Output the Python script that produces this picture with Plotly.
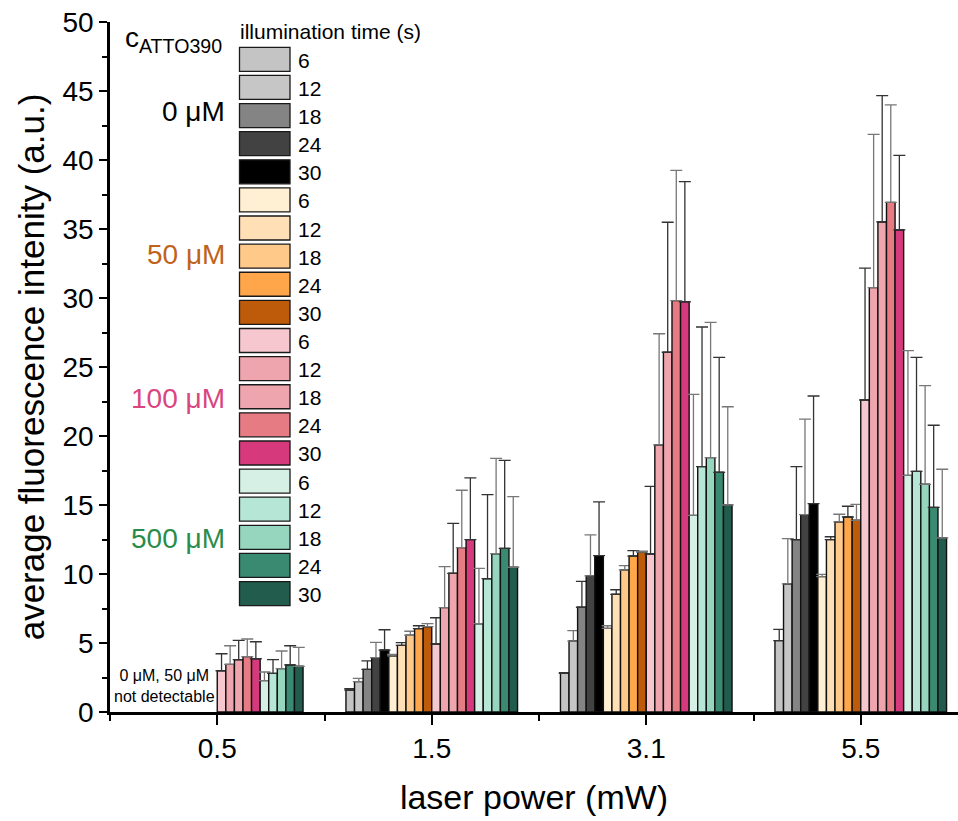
import plotly.graph_objects as go

# ---------------- data ----------------
laser_power = ["0.5", "1.5", "3.1", "5.5"]
times = ["6", "12", "18", "24", "30"]
conc_labels = ["0 μM", "50 μM", "100 μM", "500 μM"]

# mean fluorescence per (concentration, illumination time), one value per laser power
c0_vals = [
    [None, 1.59, 2.80, 5.17],
    [None, 2.20, 5.14, 9.28],
    [None, 3.09, 7.59, 12.49],
    [None, 3.94, 9.86, 14.30],
    [None, 4.49, 11.33, 15.10],
]
c0_errs = [
    [None, 0.10, 0.05, 0.82],
    [None, 0.24, 0.75, 3.28],
    [None, 0.61, 1.88, 5.29],
    [None, 1.11, 2.97, 6.93],
    [None, 1.47, 3.89, 7.80],
]
c50_vals = [
    [None, 4.06, 6.06, 9.81],
    [None, 4.83, 8.53, 12.49],
    [None, 5.56, 10.29, 13.77],
    [None, 6.04, 11.30, 14.13],
    [None, 6.18, 11.59, 13.89],
]
c50_errs = [
    [None, 0.12, 0.19, 0.17],
    [None, 0.19, 0.33, 0.21],
    [None, 0.29, 0.31, 0.56],
    [None, 0.21, 0.39, 0.78],
    [None, 0.22, 0.07, 1.16],
]
c100_vals = [
    [2.99, 4.93, 11.45, 22.61],
    [3.45, 7.56, 19.35, 30.75],
    [3.79, 10.05, 26.07, 35.51],
    [4.01, 11.91, 29.81, 36.93],
    [3.86, 12.49, 29.73, 34.93],
]
c100_errs = [
    [1.23, 1.90, 4.90, 9.56],
    [1.35, 2.97, 8.06, 11.11],
    [1.40, 3.62, 9.42, 9.15],
    [1.28, 4.16, 9.44, 7.07],
    [1.23, 4.47, 8.70, 5.41],
]
c500_vals = [
    [2.27, 6.40, 14.25, 17.15],
    [2.80, 9.66, 17.78, 17.44],
    [3.14, 11.47, 18.43, 16.50],
    [3.41, 11.86, 17.37, 14.83],
    [3.31, 10.49, 15.00, 12.61],
]
c500_errs = [
    [0.63, 4.01, 8.77, 9.03],
    [0.99, 6.09, 10.12, 8.26],
    [1.28, 6.91, 9.81, 7.15],
    [1.39, 6.38, 8.33, 5.95],
    [1.38, 5.11, 7.12, 4.98],
]

c0_colors = ["#C4C4C4", "#C6C6C6", "#848484", "#424242", "#000000"]
c50_colors = ["#FFF0D3", "#FFDFB6", "#FFC98A", "#FFA64B", "#BE5B0A"]
c100_colors = ["#F7C7D0", "#EEA5AE", "#EEA5AE", "#E67B84", "#D63A7C"]
c500_colors = ["#D6F0E6", "#B5E6D6", "#96D6BE", "#3A8A72", "#225C4C"]
label_colors = ["#000000", "#C0631A", "#D9467F", "#2A8C4A"]

groups = [
    (c0_vals, c0_errs, c0_colors),
    (c50_vals, c50_errs, c50_colors),
    (c100_vals, c100_errs, c100_colors),
    (c500_vals, c500_errs, c500_colors),
]

FONT = "Arial"
W, H = 958, 821
L, R, T, B = 110, 958, 22, 712  # plot area in pixels


def px(x):
    return (x - L) / (R - L)


def py(y):
    return (B - y) / (B - T)


fig = go.Figure()
xpos = list(range(len(laser_power)))
k = 0
for gi, (vals, errs, cols) in enumerate(groups):
    for ti in range(len(times)):
        fig.add_trace(go.Bar(
            x=xpos, y=vals[ti],
            name=f"{conc_labels[gi]} {times[ti]} s",
            marker=dict(color=cols[ti], line=dict(color="#111111", width=1.4)),
            error_y=dict(type="data", array=errs[ti],
                         arrayminus=[0] * len(errs[ti]), symmetric=False,
                         color="#333333" if k % 2 == 0 else "#777777",
                         thickness=1.3, width=6),
            showlegend=False,
        ))
        k += 1

# ---------- manual legend (swatches + labels) ----------
sw_x0, sw_x1 = 239.5, 290
sw_top, sw_step, sw_h = 47.3, 28.12, 24
shapes = []
annotations = []
k = 0
for gi, (vals, errs, cols) in enumerate(groups):
    for ti in range(len(times)):
        y0 = sw_top + k * sw_step
        shapes.append(dict(type="rect", xref="paper", yref="paper",
                           x0=px(sw_x0), x1=px(sw_x1), y0=py(y0), y1=py(y0 + sw_h),
                           fillcolor=cols[ti], line=dict(color="#1a1a1a", width=1.3),
                           layer="above"))
        annotations.append(dict(xref="paper", yref="paper", x=px(296), y=py(y0 + sw_h / 2 + 1),
                                text=times[ti], showarrow=False, xanchor="left",
                                yanchor="middle", font=dict(size=21, color="black", family=FONT)))
        k += 1

annotations.append(dict(xref="paper", yref="paper", x=px(238), y=py(32),
                        text="illumination time (s)", showarrow=False, xanchor="left",
                        yanchor="middle", font=dict(size=21, color="black", family=FONT)))
annotations.append(dict(xref="paper", yref="paper", x=px(123), y=py(40),
                        text="c<sub>ATTO390</sub>", showarrow=False, xanchor="left",
                        yanchor="middle", font=dict(size=28, color="black", family=FONT)))
label_y = [111, 254, 398, 538]
for gi in range(4):
    annotations.append(dict(xref="paper", yref="paper", x=px(227), y=py(label_y[gi]),
                            text=conc_labels[gi], showarrow=False, xanchor="right",
                            yanchor="middle",
                            font=dict(size=28, color=label_colors[gi], family=FONT)))
annotations.append(dict(xref="paper", yref="paper", x=px(164), y=py(686),
                        text="0 μM, 50 μM<br>not detectable", showarrow=False,
                        xanchor="center", yanchor="middle",
                        font=dict(size=16, color="black", family=FONT)))

fig.update_layout(
    width=W, height=H,
    margin=dict(l=L, r=W - R, t=T, b=H - B, pad=0),
    barmode="group", bargap=0.2, bargroupgap=0,
    plot_bgcolor="white", paper_bgcolor="white",
    font=dict(family=FONT, color="black"),
    shapes=shapes, annotations=annotations,
    showlegend=False,
)
fig.update_xaxes(
    range=[-0.5, (R - L) / 214.5 - 0.5],
    tickmode="array", tickvals=xpos, ticktext=laser_power,
    ticks="outside", ticklen=10, tickwidth=2, tickcolor="black",
    minor=dict(tickmode="linear", tick0=-0.5, dtick=1, ticks="outside",
               ticklen=6, tickwidth=2, tickcolor="black"),
    showline=True, linecolor="black", linewidth=2.5,
    showgrid=False, zeroline=False,
    tickfont=dict(size=28, family=FONT),
    title=dict(text="laser power (mW)", font=dict(size=34, family=FONT), standoff=22),
)
fig.update_yaxes(
    range=[0, 50], dtick=5,
    ticks="outside", ticklen=8, tickwidth=2, tickcolor="black",
    minor=dict(dtick=2.5, ticks="outside", ticklen=5, tickwidth=2, tickcolor="black"),
    showline=True, linecolor="black", linewidth=2.5,
    showgrid=False, zeroline=False,
    tickfont=dict(size=28, family=FONT),
    title=dict(text="average fluorescence intenity (a.u.)",
               font=dict(size=35, family=FONT), standoff=8),
)

fig.write_html("out.html")
